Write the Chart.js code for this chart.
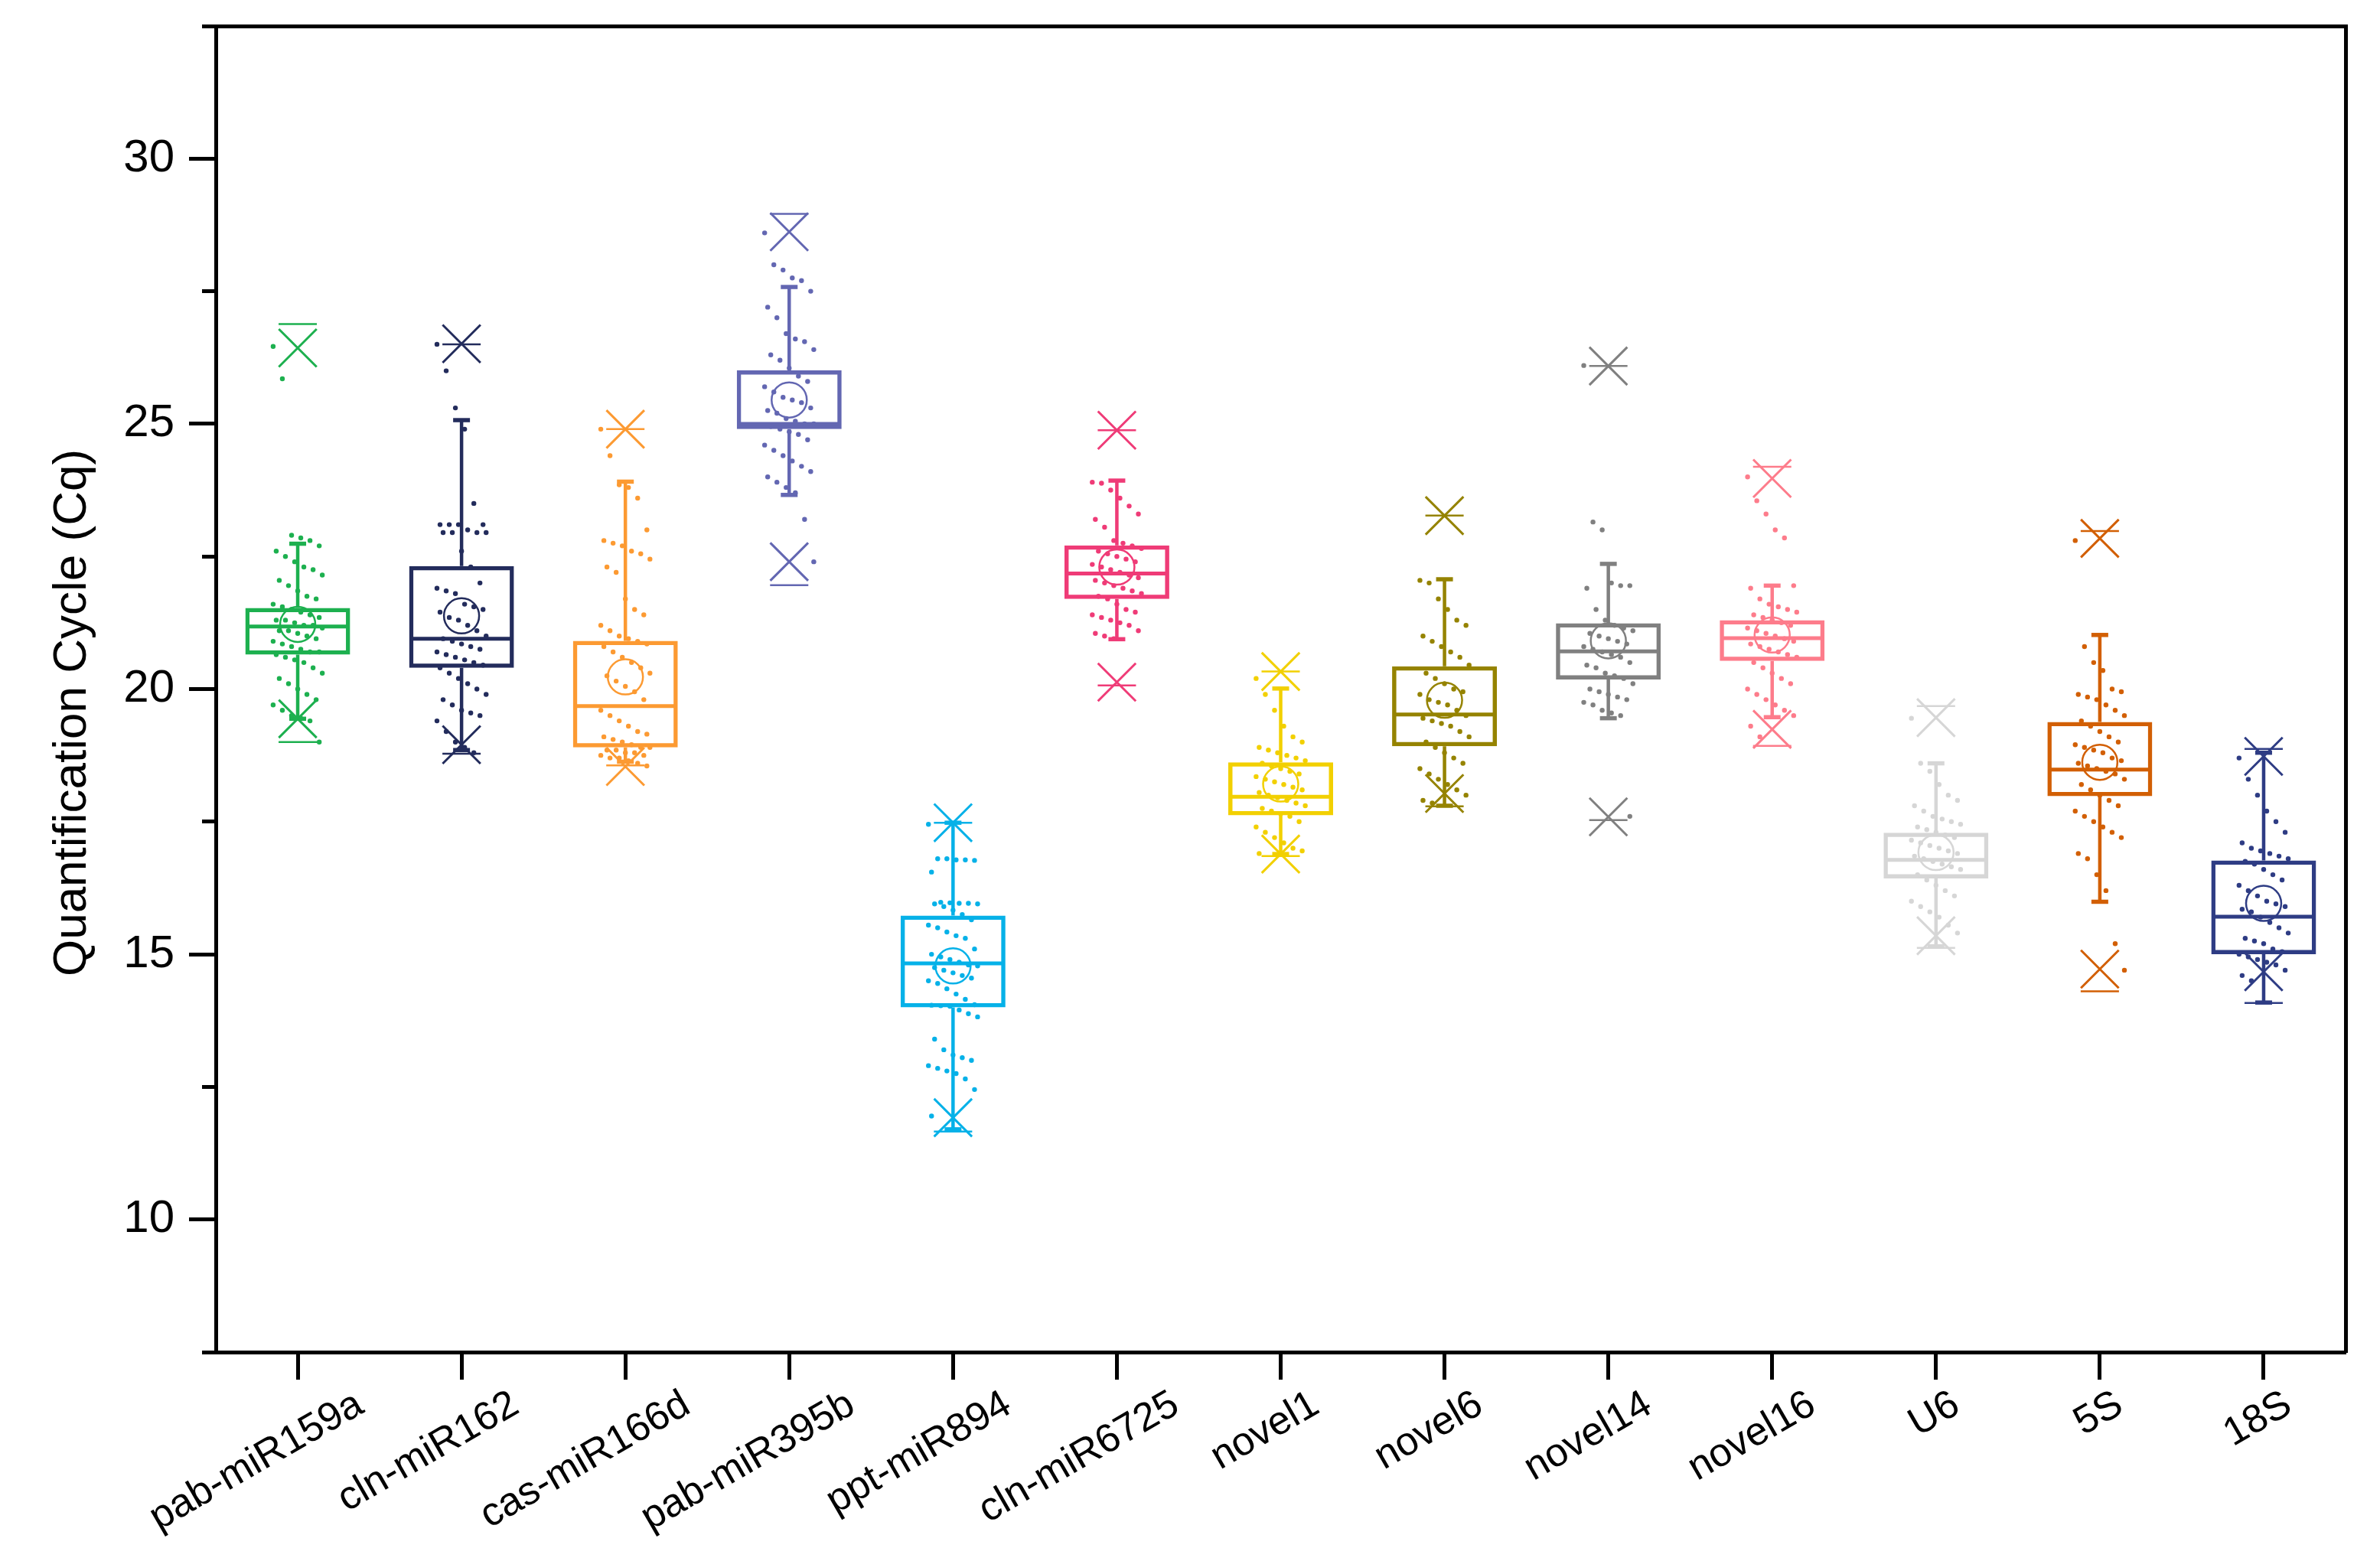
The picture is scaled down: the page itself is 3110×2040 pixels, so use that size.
<!DOCTYPE html>
<html>
<head>
<meta charset="utf-8">
<title>Quantification Cycle box plot</title>
<script src="https://cdn.jsdelivr.net/npm/chart.js@4.4.1/dist/chart.umd.min.js"></script>
<style>
  html, body { margin: 0; padding: 0; background: #fff; }
  canvas { display: block; }
</style>
</head>
<body>
<canvas id="cqChart" width="3110" height="2040"></canvas>
<script>
const categories = ["pab-miR159a", "cln-miR162", "cas-miR166d", "pab-miR395b", "ppt-miR894", "cln-miR6725",
  "novel1", "novel6", "novel14", "novel16", "U6", "5S", "18S"];

const boxColors = ["#1db04f", "#232c5c", "#fc9a32", "#6367b2", "#06b1e8", "#ef3b77",
  "#f2d000", "#958300", "#808080", "#fd7c8b", "#d6d6d6", "#d25f04", "#2e3c84"];

// box statistics
const q1 =          [20.65, 20.40, 18.90, 24.90, 14.00, 21.70, 17.62, 18.92, 20.18, 20.53, 16.43, 17.98, 15.00];
const medians =     [21.18, 20.95, 19.68, 25.00, 14.83, 22.18, 17.97, 19.52, 20.71, 20.96, 16.78, 18.48, 15.71];
const q3 =          [21.53, 22.32, 20.91, 26.01, 15.73, 22.71, 18.62, 20.43, 21.24, 21.30, 17.29, 19.38, 16.77];
const means =       [21.22, 21.38, 20.23, 25.45, 14.78, 22.30, 18.21, 19.79, 20.91, 21.02, 16.92, 18.62, 15.96];
const whiskerLow =  [19.44, 18.85, 18.63, 23.66, 11.70, 20.94, 16.89, 17.80, 19.45, 19.47, 15.15, 15.99, 14.09];
const whiskerHigh = [22.74, 25.07, 23.91, 27.58, 17.48, 23.93, 20.01, 22.07, 22.36, 21.95, 18.60, 21.02, 18.80];
const pct1 =        [19.44, 18.95, 18.54, 22.40, 11.92, 20.13, 16.89, 18.03, 17.59, 19.24, 15.35, 14.72, 14.67];
const pct99 =       [26.43, 26.51, 24.90, 28.62, 17.48, 24.88, 20.33, 23.27, 26.09, 23.97, 19.46, 22.84, 18.73];
const minVals =     [19.00, 18.78, 18.56, 21.96, 11.66, 20.07, 16.85, 17.79, 17.53, 18.93, 15.12, 14.30, 14.08];
const maxVals =     [26.88, 26.50, 24.90, 28.96, 17.48, 24.88, 20.33, 23.27, 26.09, 24.19, 19.68, 22.98, 18.87];

const yTicks = [7.5, 10, 12.5, 15, 17.5, 20, 22.5, 25, 27.5, 30, 32.5];

// individual Cq values
const ptsPab159a = [26.46, 25.85, 22.9, 22.85, 22.8, 22.7, 22.6, 22.5, 22.4, 22.3, 22.25, 22.15, 22.05, 21.95,
  21.85, 21.75, 21.7, 21.6, 21.55, 21.5, 21.45, 21.4, 21.35, 21.3, 21.3, 21.25, 21.2, 21.2, 21.15, 21.1,
  21.1, 21.05, 21.0, 20.95, 20.9, 20.85, 20.8, 20.75, 20.7, 20.7, 20.65, 20.6, 20.55, 20.5, 20.4, 20.3,
  20.2, 20.1, 20.0, 19.9, 19.8, 19.7, 19.6, 19.5, 19.45, 19.4, 19.0];
const ptsCln162 = [26.5, 26.0, 25.3, 24.9, 23.5, 23.1, 23.1, 23.1, 23.1, 23.0, 22.95, 22.95, 22.95, 22.95,
  22.6, 22.3, 22.0, 21.9, 21.85, 21.8, 21.6, 21.55, 21.5, 21.45, 21.35, 21.3, 21.2, 21.1, 21.0, 20.95,
  20.9, 20.85, 20.8, 20.75, 20.7, 20.65, 20.6, 20.55, 20.5, 20.45, 20.4, 20.3, 20.2, 20.1, 20.0, 19.9,
  19.8, 19.7, 19.6, 19.55, 19.5, 19.4, 19.2, 19.0, 18.9, 18.8];
const ptsCas166d = [24.9, 24.4, 23.85, 23.8, 23.6, 23.0, 22.8, 22.75, 22.7, 22.6, 22.55, 22.45, 22.3, 22.2,
  21.7, 21.5, 21.4, 21.2, 21.1, 21.0, 20.95, 20.9, 20.85, 20.8, 20.7, 20.6, 20.5, 20.4, 20.3, 20.25,
  20.15, 20.05, 19.95, 19.8, 19.6, 19.5, 19.4, 19.3, 19.2, 19.15, 19.1, 19.05, 19.0, 18.95, 18.9, 18.9,
  18.85, 18.85, 18.8, 18.8, 18.75, 18.75, 18.7, 18.7, 18.65, 18.6, 18.55];
const ptsPab395b = [28.6, 28.0, 27.9, 27.75, 27.7, 27.5, 27.2, 27.0, 26.7, 26.6, 26.55, 26.4, 26.3, 26.2,
  26.05, 25.9, 25.8, 25.7, 25.6, 25.5, 25.45, 25.4, 25.3, 25.25, 25.2, 25.1, 25.05, 25.0, 25.0, 24.95,
  24.9, 24.85, 24.8, 24.7, 24.6, 24.5, 24.4, 24.3, 24.2, 24.1, 24.0, 23.9, 23.8, 23.7, 23.2, 22.4];
const ptsPpt894 = [17.45, 16.8, 16.8, 16.78, 16.78, 16.77, 16.55, 15.98, 15.97, 15.96, 15.96, 15.95, 15.95,
  15.9, 15.83, 15.75, 15.65, 15.55, 15.5, 15.42, 15.35, 15.3, 15.1, 15.0, 14.95, 14.9, 14.85, 14.8, 14.78,
  14.75, 14.7, 14.65, 14.6, 14.55, 14.5, 14.45, 14.35, 14.25, 14.15, 14.05, 14.04, 14.03, 14.02, 13.95,
  13.88, 13.82, 13.4, 13.2, 13.1, 13.05, 13.0, 12.9, 12.85, 12.8, 12.75, 12.65, 12.45, 11.95];
const ptsCln6725 = [23.9, 23.88, 23.75, 23.6, 23.45, 23.3, 23.2, 23.05, 22.8, 22.75, 22.7, 22.65, 22.6, 22.55,
  22.5, 22.45, 22.4, 22.35, 22.3, 22.25, 22.2, 22.15, 22.1, 22.05, 22.0, 21.95, 21.9, 21.85, 21.8, 21.75,
  21.7, 21.6, 21.5, 21.45, 21.4, 21.35, 21.3, 21.25, 21.2, 21.1, 21.05, 21.0, 20.95];
const ptsNovel1 = [20.2, 19.9, 19.6, 19.3, 19.1, 19.0, 18.9, 18.85, 18.8, 18.75, 18.7, 18.65, 18.6, 18.55,
  18.5, 18.45, 18.4, 18.35, 18.3, 18.25, 18.2, 18.15, 18.1, 18.05, 18.0, 17.95, 17.9, 17.85, 17.8, 17.75,
  17.7, 17.65, 17.6, 17.5, 17.4, 17.3, 17.2, 17.1, 17.0, 16.95, 16.9];
const ptsNovel6 = [22.05, 22.0, 21.7, 21.5, 21.3, 21.2, 21.0, 20.9, 20.8, 20.7, 20.6, 20.45, 20.3, 20.2,
  20.1, 20.0, 19.95, 19.9, 19.8, 19.75, 19.7, 19.6, 19.5, 19.45, 19.4, 19.35, 19.3, 19.2, 19.1, 19.0,
  18.9, 18.8, 18.7, 18.6, 18.5, 18.4, 18.3, 18.2, 18.1, 18.0, 17.9, 17.85];
const ptsNovel14 = [26.1, 23.15, 23.0, 22.0, 21.95, 21.95, 21.9, 21.5, 21.3, 21.2, 21.15, 21.1, 21.05, 21.0,
  20.95, 20.9, 20.85, 20.8, 20.75, 20.7, 20.65, 20.6, 20.5, 20.45, 20.4, 20.3, 20.25, 20.2, 20.1, 20.0,
  19.95, 19.9, 19.85, 19.8, 19.75, 19.7, 19.6, 19.55, 19.5, 17.6];
const ptsNovel16 = [24.0, 23.55, 23.3, 23.0, 22.85, 21.95, 21.9, 21.7, 21.6, 21.55, 21.5, 21.45, 21.4, 21.35,
  21.3, 21.25, 21.2, 21.15, 21.1, 21.05, 21.0, 20.95, 20.9, 20.85, 20.8, 20.75, 20.7, 20.65, 20.6, 20.5,
  20.4, 20.3, 20.2, 20.1, 20.0, 19.9, 19.8, 19.7, 19.6, 19.5, 19.3, 19.1];
const ptsU6 = [19.45, 18.6, 18.45, 18.2, 18.0, 17.9, 17.8, 17.7, 17.6, 17.55, 17.5, 17.45, 17.4, 17.35, 17.3,
  17.25, 17.2, 17.15, 17.1, 17.05, 17.0, 16.95, 16.9, 16.85, 16.8, 16.75, 16.7, 16.65, 16.6, 16.5, 16.4,
  16.3, 16.2, 16.1, 16.0, 15.9, 15.8, 15.7, 15.55, 15.4];
const pts5S = [22.8, 20.8, 20.5, 20.35, 20.0, 19.95, 19.9, 19.85, 19.8, 19.7, 19.6, 19.5, 19.4, 19.3, 19.2,
  19.1, 19.0, 18.95, 18.9, 18.85, 18.8, 18.7, 18.65, 18.6, 18.55, 18.5, 18.45, 18.4, 18.3, 18.2, 18.1,
  18.0, 17.9, 17.8, 17.7, 17.6, 17.5, 17.4, 17.3, 17.2, 16.9, 16.8, 16.5, 16.2, 15.2, 14.7];
const pts18S = [18.7, 18.3, 18.0, 17.7, 17.5, 17.3, 17.1, 17.0, 16.95, 16.9, 16.85, 16.8, 16.75, 16.7, 16.6,
  16.5, 16.4, 16.3, 16.2, 16.1, 16.0, 15.95, 15.9, 15.85, 15.8, 15.7, 15.6, 15.5, 15.4, 15.3, 15.25, 15.2,
  15.1, 15.05, 15.0, 14.95, 14.9, 14.85, 14.8, 14.7, 14.6, 14.5];

const pointSets = [ptsPab159a, ptsCln162, ptsCas166d, ptsPab395b, ptsPpt894, ptsCln6725,
  ptsNovel1, ptsNovel6, ptsNovel14, ptsNovel16, ptsU6, pts5S, pts18S];

const font = "'Liberation Sans', Arial, sans-serif";
const labelSize = 52;

// sideways spread for the dots so they don't stack on one line
function jitter(k) {
  return (((k * 37) % 17) / 16 - 0.5) * 0.3;
}

// the slanted category names sit a bit further right the longer they are
const measureCtx = document.createElement("canvas").getContext("2d");
measureCtx.font = labelSize + "px " + font;
function labelShiftPx(text) {
  return 12 + 0.223 * measureCtx.measureText(text).width;
}

function markerSet(values, style, radius, width, order) {
  return {
    type: "scatter",
    data: values.map((v, i) => ({ x: i, y: v })),
    pointStyle: style,
    pointRadius: radius,
    pointBorderWidth: width,
    pointBorderColor: boxColors,
    pointBackgroundColor: "rgba(0,0,0,0)",
    order: order
  };
}

const datasets = [];

// boxes: floating bars from Q1 to Q3
datasets.push({
  type: "bar",
  data: categories.map((c, i) => ({ x: i, y: [q1[i], q3[i]] })),
  backgroundColor: "rgba(0,0,0,0)",
  borderColor: boxColors,
  borderWidth: 5.5,
  borderSkipped: false,
  barPercentage: 0.64,
  categoryPercentage: 1,
  order: 6
});

// whiskers
categories.forEach((c, i) => {
  datasets.push({
    type: "line",
    data: [
      { x: i, y: whiskerLow[i] }, { x: i, y: q1[i] }, { x: i, y: null },
      { x: i, y: q3[i] }, { x: i, y: whiskerHigh[i] }
    ],
    borderColor: boxColors[i],
    borderWidth: 4.5,
    pointRadius: 0,
    spanGaps: false,
    order: 5
  });
});

datasets.push(markerSet(whiskerLow, "line", 11, 5.5, 4));
datasets.push(markerSet(whiskerHigh, "line", 11, 5.5, 4));
datasets.push(markerSet(medians, "line", 64, 5, 4));
datasets.push(markerSet(pct1, "crossRot", 35, 3, 3));
datasets.push(markerSet(pct99, "crossRot", 35, 3, 3));
datasets.push(markerSet(minVals, "line", 25, 2.5, 3));
datasets.push(markerSet(maxVals, "line", 25, 2.5, 3));
datasets.push(markerSet(means, "circle", 23, 2.5, 2));

pointSets.forEach((pts, i) => {
  datasets.push({
    type: "scatter",
    data: pts.map((v, k) => ({ x: i + jitter(k), y: v })),
    pointRadius: 3.2,
    pointBorderWidth: 0,
    pointBackgroundColor: boxColors[i],
    order: 0
  });
});

const frameAxis = {
  type: "linear",
  display: true,
  grid: { display: true, drawOnChartArea: false, drawTicks: false },
  ticks: { display: false },
  border: { display: true, color: "#000", width: 5 }
};

new Chart(document.getElementById("cqChart"), {
  type: "bar",
  data: { datasets: datasets },
  options: {
    responsive: false,
    devicePixelRatio: 1,
    animation: false,
    events: [],
    layout: { autoPadding: false, padding: { top: 34, right: 45, left: 0, bottom: 0 } },
    plugins: {
      legend: { display: false },
      tooltip: { enabled: false }
    },
    scales: {
      // axis line and tick marks
      x: {
        type: "linear",
        position: "bottom",
        weight: 0,
        min: -0.5,
        max: 12.5,
        offset: false,
        afterBuildTicks: (s) => { s.ticks = categories.map((c, i) => ({ value: i })); },
        afterFit: (s) => { s.height = 36; s.paddingLeft = 0; s.paddingRight = 0; },
        grid: { offset: false, drawOnChartArea: false, tickLength: 36, tickWidth: 5, tickColor: "#000" },
        border: { display: true, color: "#000", width: 5 },
        ticks: { display: false }
      },
      // category names
      xLabels: {
        type: "linear",
        position: "bottom",
        weight: 1,
        min: -0.5,
        max: 12.5,
        offset: false,
        afterBuildTicks: (s) => {
          const unit = s.width / categories.length;
          s.ticks = categories.map((c, i) => ({ value: i + labelShiftPx(c) / unit }));
        },
        afterFit: (s) => { s.height = 237; s.paddingLeft = 0; s.paddingRight = 0; },
        grid: { display: false, drawTicks: false },
        border: { display: false },
        ticks: {
          autoSkip: false,
          minRotation: 30,
          maxRotation: 30,
          padding: 2,
          color: "#000",
          font: { family: font, size: labelSize },
          callback: (v, index) => categories[index]
        }
      },
      y: {
        type: "linear",
        position: "left",
        min: 7.5,
        max: 32.5,
        afterBuildTicks: (s) => { s.ticks = yTicks.map((v) => ({ value: v })); },
        afterFit: (s) => { s.width = 282; s.paddingTop = 0; s.paddingBottom = 0; },
        grid: {
          drawOnChartArea: false,
          tickLength: 35,
          tickWidth: 5,
          tickColor: "#000",
          // half-length minor ticks between the labelled ones
          tickBorderDash: (ctx) => (ctx.tick && ctx.tick.value % 5 !== 0 ? [0, 17, 100] : [])
        },
        border: { display: true, color: "#000", width: 5 },
        ticks: {
          padding: 19,
          color: "#000",
          font: { family: font, size: 60 },
          callback: (v) => (v % 5 === 0 ? v : "")
        },
        title: {
          display: true,
          text: "Quantification Cycle (Cq)\u2003",
          color: "#000",
          font: { family: font, size: 62 },
          padding: { top: 58, bottom: 0 }
        }
      },
      xTop: Object.assign({}, frameAxis, {
        position: "top",
        afterFit: (s) => { s.height = 0; s.paddingLeft = 0; s.paddingRight = 0; }
      }),
      yRight: Object.assign({}, frameAxis, {
        position: "right",
        afterFit: (s) => { s.width = 0; s.paddingTop = 0; s.paddingBottom = 0; }
      })
    }
  }
});
</script>
</body>
</html>
